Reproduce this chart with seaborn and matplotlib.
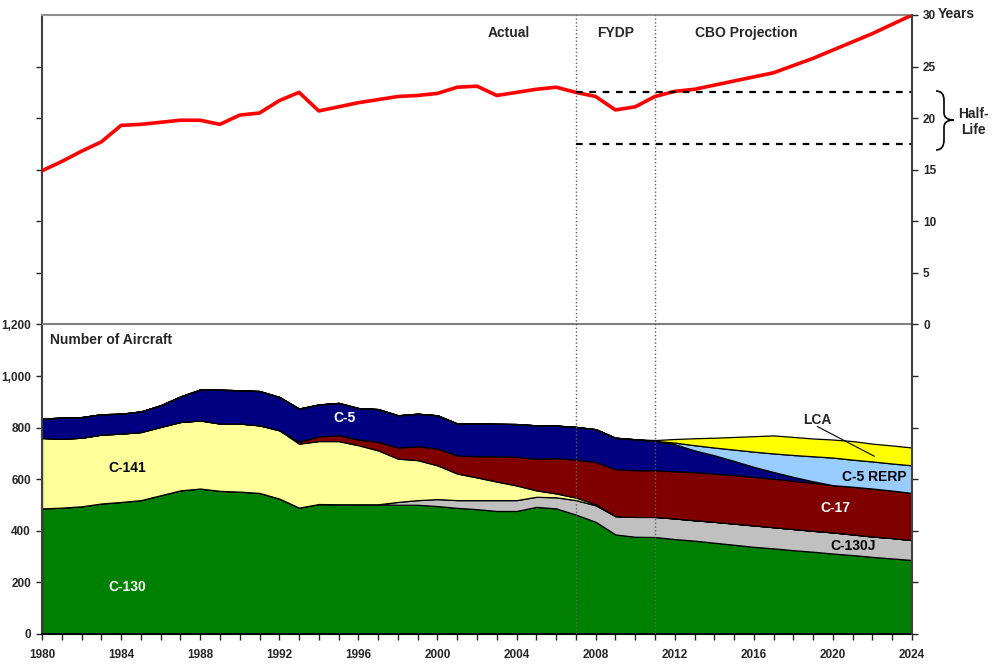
import matplotlib.pyplot as plt
import seaborn as sns
from matplotlib.patches import PathPatch
from matplotlib.path import Path

# Годы и значения
years = list(range(1980, 2025))

avg_age = [14.9, 15.8, 16.8, 17.7, 19.3, 19.4, 19.6, 19.8, 19.8, 19.4,
           20.3, 20.5, 21.7, 22.5, 20.7, 21.1, 21.5, 21.8, 22.1, 22.2,
           22.4, 23.0, 23.1, 22.2, 22.5, 22.8, 23.0, 22.5, 22.1, 20.8,
           21.1, 22.1, 22.6, 22.8, 23.2, 23.6, 24.0, 24.4, 25.1, 25.8,
           26.6, 27.4, 28.2, 29.1, 30.0]

c130 = [487, 490, 495, 506, 512, 519, 538, 557, 564, 555,
        552, 547, 525, 490, 504, 503, 503, 503, 501, 501,
        496, 489, 484, 477, 477, 493, 487, 463, 435, 386,
        377, 376, 368, 362, 354, 346, 338, 332, 325, 319,
        312, 306, 299, 293, 287]
c130j = [0, 0, 0, 0, 0, 0, 0, 0, 0, 0,
         0, 0, 0, 0, 0, 0, 0, 0, 11, 18,
         27, 30, 35, 42, 42, 39, 43, 56, 64, 71,
         77, 78, 80, 79, 81, 82, 83, 82, 82, 81,
         82, 80, 79, 79, 77]
c141 = [273, 267, 266, 267, 265, 264, 265, 265, 264, 261,
        264, 262, 265, 248, 244, 245, 229, 209, 168, 155,
        131, 103, 88, 72, 57, 25, 15, 10, 4, 0,
        0, 0, 0, 0, 0, 0, 0, 0, 0, 0,
        0, 0, 0, 0, 0]
c17 = [0, 0, 0, 0, 0, 0, 0, 0, 0, 0,
       0, 0, 0, 8, 18, 23, 22, 33, 43, 54,
       65, 70, 82, 98, 111, 122, 137, 147, 164, 182,
       181, 181, 183, 186, 187, 188, 188, 188, 187, 186,
       183, 185, 186, 184, 183]
c5 = [75, 82, 80, 79, 77, 80, 84, 99, 120, 131,
      129, 133, 129, 128, 124, 125, 122, 127, 125, 126,
      129, 124, 127, 126, 127, 130, 126, 127, 127, 122,
      120, 113, 105, 85, 71, 55, 39, 26, 15, 6,
      0, 0, 0, 0, 0]
c5_rerp = [0, 0, 0, 0, 0, 0, 0, 0, 0, 0,
           0, 0, 0, 0, 0, 0, 0, 0, 0, 0,
           0, 0, 0, 0, 0, 0, 0, 0, 0, 0,
           0, 1, 6, 20, 30, 44, 59, 72, 85, 97,
           107, 105, 105, 105, 107]
lca = [0, 0, 0, 0, 0, 0, 0, 0, 0, 0,
       0, 0, 0, 0, 0, 0, 0, 0, 0, 0,
       0, 0, 0, 0, 0, 0, 0, 0, 0, 0,
       0, 3, 14, 27, 38, 49, 60, 70, 70, 69,
       70, 72, 69, 70, 69]

series = [c130, c130j, c141, c17, c5, c5_rerp, lca]
colors = ["#008000", "#C0C0C0", "#FFFF99", "#800000", "#000080", "#99CCFF", "#FFFF00"]

W, H = 1003, 671


def px(x, y):
    # пиксели картинки -> доли фигуры
    return x / W, 1 - y / H


sns.set_style("ticks")
plt.rcParams["font.family"] = ["Liberation Sans", "DejaVu Sans"]
plt.rcParams["font.weight"] = "bold"

fig = plt.figure(figsize=(W / 100, H / 100), dpi=100)
ax = fig.add_axes([42 / W, 37 / H, 870 / W, 619 / H])
ax2 = ax.twinx()

# Нижняя часть: число самолётов
ax.stackplot(years, *series, colors=colors, edgecolor="black", linewidth=0.9)
ax.set_xlim(1980, 2024)
ax.set_ylim(0, 2400)
ax.axhline(1200, color="#808080", linewidth=1.5, zorder=3)
for yr in (2007, 2011):
    ax.axvline(yr, color="#606060", linestyle=":", linewidth=1.0, zorder=4)

ax.set_yticks(range(0, 2400, 200))
ax.set_yticklabels([f"{v:,}" if v <= 1200 else "" for v in range(0, 2400, 200)])
ax.set_xticks(years)
ax.set_xticklabels([str(y) if (y - 1980) % 4 == 0 else "" for y in years])
ax.tick_params(axis="both", direction="out", length=4, width=1, labelsize=8.5, pad=4)
ax.tick_params(axis="x", pad=7)

for side in ("left", "bottom", "top"):
    ax.spines[side].set_linewidth(1.5)
ax.spines["left"].set_color("#404040")
ax.spines["bottom"].set_color("black")
ax.spines["top"].set_color("#909090")
ax.spines["right"].set_visible(False)

# Верхняя часть: средний возраст
sns.lineplot(x=years, y=avg_age, ax=ax2, color="#FF0000", linewidth=2.6)
ax2.set_ylim(-30, 30)
ax2.set_yticks(range(-30, 31, 5))
ax2.set_yticklabels([str(v) if v >= 0 else "" for v in range(-30, 31, 5)])
ax2.tick_params(axis="y", direction="out", length=4, width=1, labelsize=8.5, pad=4)
for side in ("left", "bottom", "top"):
    ax2.spines[side].set_visible(False)
ax2.spines["right"].set_linewidth(1.5)
ax2.spines["right"].set_color("#404040")

for lvl in (22.5, 17.5):
    ax2.plot([2007, 2024], [lvl, lvl], color="black", linestyle=(0, (3, 3)), linewidth=1.6)

ax2.text(2003.6, 28.3, "Actual", ha="center", va="center", fontsize=10)
ax2.text(2009.0, 28.3, "FYDP", ha="center", va="center", fontsize=10)
ax2.text(2015.6, 28.3, "CBO Projection", ha="center", va="center", fontsize=10)

fig.text(*px(938, 14), "Years", ha="left", va="center", fontsize=10)
fig.text(*px(973, 122), "Half-\nLife", ha="center", va="center", fontsize=10,
         linespacing=1.2)

# фигурная скобка
verts = [px(936, 91), px(944, 91), px(944, 100),
         px(944, 113), px(944, 120), px(954, 120),
         px(944, 120), px(944, 127), px(944, 140),
         px(944, 150), px(936, 150)]
codes = [Path.MOVETO, Path.CURVE3, Path.CURVE3,
         Path.LINETO, Path.CURVE3, Path.CURVE3,
         Path.CURVE3, Path.CURVE3, Path.LINETO,
         Path.CURVE3, Path.CURVE3]
fig.patches.append(PathPatch(Path(verts, codes), transform=fig.transFigure,
                             facecolor="none", edgecolor="black", linewidth=1.2))

# подписи областей
ax.text(1980.4, 1140, "Number of Aircraft", ha="left", va="center", fontsize=10)
ax.text(1984.3, 643, "C-141", ha="center", va="center", fontsize=10, color="black")
ax.text(1984.3, 182, "C-130", ha="center", va="center", fontsize=10, color="white")
ax.text(1995.3, 836, "C-5", ha="center", va="center", fontsize=10, color="white")
ax.text(2020.1, 488, "C-17", ha="center", va="center", fontsize=10, color="white")
ax.text(2021.0, 341, "C-130J", ha="center", va="center", fontsize=10, color="black")
ax.text(2022.1, 608, "C-5 RERP", ha="center", va="center", fontsize=10, color="black")
ax.text(2019.2, 828, "LCA", ha="center", va="center", fontsize=10, zorder=6)
ax.annotate("", xy=(2022.1, 689), xytext=(2019.2, 805),
            arrowprops=dict(arrowstyle="-", color="black", linewidth=0.8,
                            shrinkA=0, shrinkB=0), zorder=6)

fig.savefig("out.png", dpi=100)
plt.close(fig)
